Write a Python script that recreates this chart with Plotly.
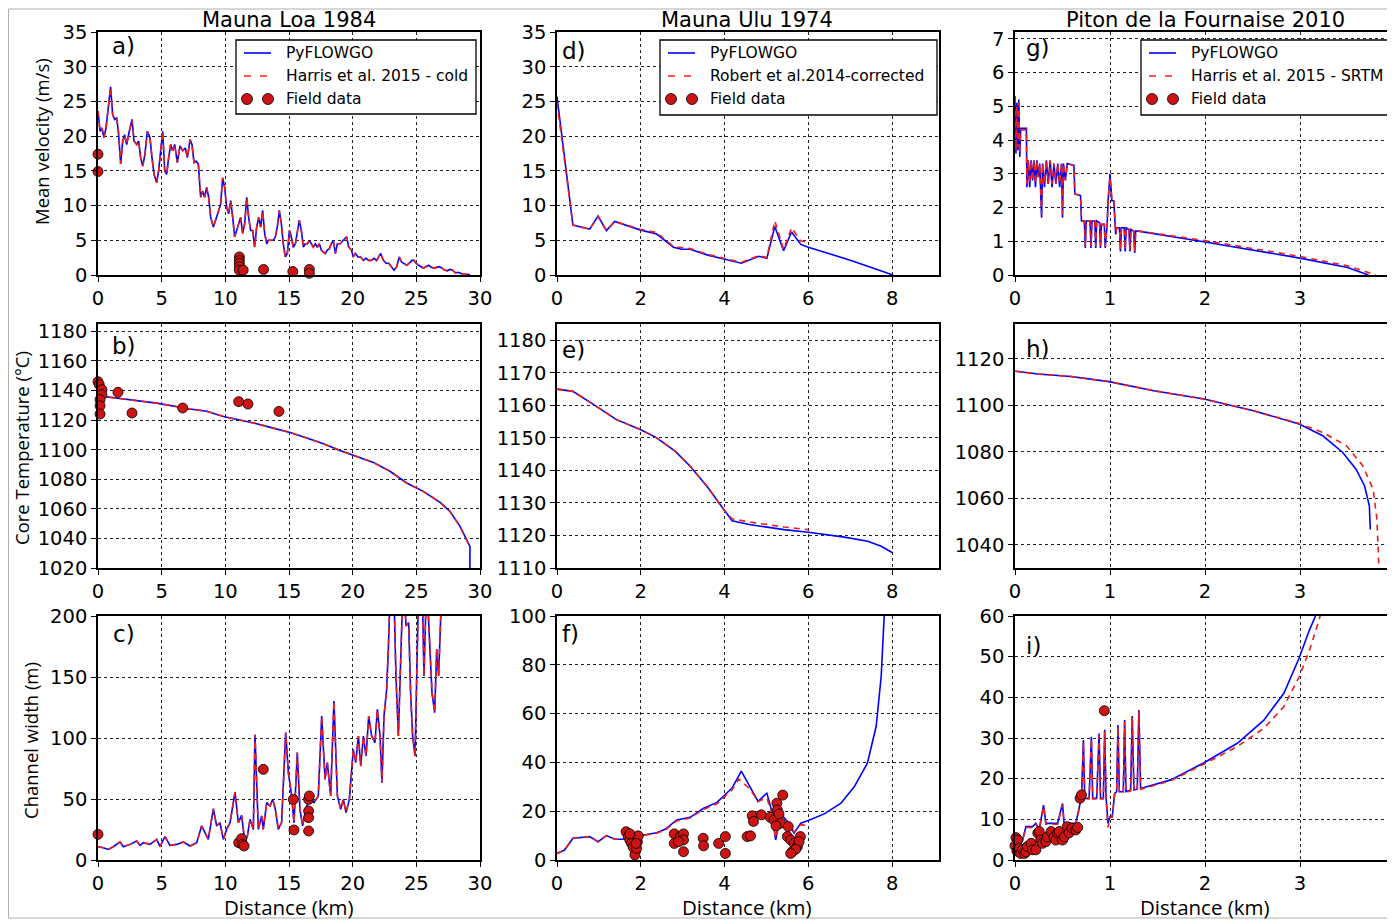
import plotly.graph_objects as go

# The page body adds an 8 px offset; the figure is sized so that it fills the window.
PAGE_OFFSET = 8
W, H = 1395 - PAGE_OFFSET, 921 - PAGE_OFFSET

# ---------------- DATA ----------------
# a) Mauna Loa 1984 - mean velocity (m/s)
a_x = [0,0.16,0.31,0.47,0.63,0.81,0.99,1.15,1.31,1.47,
       1.6,1.78,1.94,2.09,2.25,2.46,2.67,2.83,3.04,3.19,
       3.35,3.51,3.69,3.87,4.08,4.24,4.4,4.61,4.76,4.92,
       5.08,5.24,5.39,5.55,5.71,5.86,6.02,6.23,6.44,6.65,
       6.86,7.02,7.23,7.38,7.54,7.7,7.88,8.06,8.22,8.38,
       8.53,8.69,8.85,9.06,9.27,9.48,9.63,9.79,9.95,10.1,
       10.26,10.42,10.58,10.73,10.89,11.05,11.2,11.36,11.52,11.68,
       11.83,11.99,12.15,12.3,12.46,12.62,12.77,12.93,13.09,13.25,
       13.4,13.56,13.77,13.93,14.08,14.24,14.4,14.55,14.71,14.87,
       15.03,15.18,15.34,15.5,15.65,15.81,15.97,16.13,16.28,16.44,
       16.6,16.75,16.91,17.07,17.23,17.38,17.54,17.7,17.85,18.01,
       18.17,18.32,18.48,18.64,18.8,19.0,19.16,19.32,19.53,19.69,
       19.9,20.05,20.21,20.42,20.63,20.84,21.05,21.26,21.47,21.68,
       21.88,22.04,22.2,22.41,22.62,22.83,23.04,23.25,23.46,23.66,
       23.82,24.03,24.24,24.45,24.66,24.82,24.97,25.18,25.39,25.55,
       25.76,25.97,26.18,26.39,26.6,26.81,27.02,27.23,27.43,27.64,
       27.85,28.06,28.27,28.48,28.69,28.95,29.21]
a_v = [23.6,20.7,21.2,19.8,21.2,24,27.1,23.1,22.4,22.6,
       20.7,16,19.3,20.2,18.8,20.7,22.4,19.3,18.8,19.3,
       16.9,15.7,17.4,20.7,19.8,16.9,14.5,13.3,15,17.9,
       20.7,15,14.5,16.9,18.8,17.9,18.8,16.2,18.6,17.9,
       18.3,16.9,19.5,18.8,16.2,16.4,16,11.2,12.1,11.2,
       12.6,11.2,8.3,6.9,8.3,9.3,10.2,14,12.6,9.8,
       8.8,10.7,8.3,5.5,6.4,7.4,8.3,6,7.4,11.2,
       8.3,6.4,6.4,4,6.9,8.3,6.9,9.3,6,4.5,
       5,5,5,5.5,6.9,9.3,7.4,4.5,2.6,3.1,
       6.4,5.5,4,4.5,6.4,7.9,6.4,4,4.5,4.5,
       5,4.5,4,4.5,4,4.5,3.6,3.3,3.1,3.6,
       3.8,4.5,5,3.1,4.5,4.5,4.8,5.2,5.5,4,
       3.6,2.6,3.1,2.6,2.6,2.1,2.4,2.1,2.1,2.4,
       2.1,2.6,3.1,2.1,1.7,1.7,1.2,0.7,1.2,2.6,
       1.9,1.7,1.4,1.7,2.1,2.1,1.7,1.4,1.2,1,
       1.2,1.4,1.1,1,1.1,1.2,1,0.7,0.6,0.8,
       0.7,0.3,0.4,0.2,0.1,0.1,0.05]
a_field_x = [0,0,11.1,11.1,11.1,11.1,11.1,11.4,13.0,15.3,16.6,16.6]
a_field_v = [17.4,14.9,2.6,2.1,1.67,1.2,0.7,0.7,0.8,0.5,0.8,0.24]

# b) Mauna Loa 1984 - core temperature (degC)
b_x = [0,1.99,4.61,7.23,8.53,9.84,11.15,12.46,13.77,15.08,16.39,17.7,19.0,
       20.31,21.62,22.93,24.24,25.55,26.86,27.64,28.43,28.82,29.08,29.21,29.21]
b_T = [1136.5,1134.3,1131.5,1127.5,1126,1122.5,1120.3,1117.6,1114.6,1111.7,1107.9,1104,1099.5,
       1095.5,1091.4,1085.4,1077.5,1071.8,1064.4,1058.3,1048.2,1041.4,1036.9,1034.6,1015]
b_harris_x = [0,1.99,4.61,7.23,8.53,9.84,11.15,12.46,13.77,15.08,16.39,17.7,19.0,
              20.31,21.62,22.93,24.24,25.55,26.86,27.64,28.43,28.82,29.1]
b_harris_T = [1136.5,1134.3,1131.5,1127.5,1126,1122.5,1120.3,1117.6,1114.6,1111.7,1107.9,1104,1099.5,
              1095.5,1091.4,1085.4,1077.5,1071.8,1064.4,1058.3,1048.2,1041.4,1036]
b_field_x = [0,0.1,0.31,0.31,0.16,0.16,0.16,1.57,2.67,6.65,11.05,11.78,14.21]
b_field_T = [1146,1144,1140.6,1137.2,1133.8,1129.7,1124.1,1138.8,1124.8,1128.2,1132.5,1130.9,1125.9]

# c) Mauna Loa 1984 - channel width (m)
c_x = [0,0.42,0.81,1.2,1.73,1.99,2.51,3.04,3.3,3.56,
       4.08,4.61,4.87,5.26,5.65,6.18,6.7,7.23,7.75,8.14,
       8.4,8.66,9.06,9.32,9.58,9.84,10.1,10.37,10.76,11.02,
       11.28,11.54,11.73,11.94,12.2,12.33,12.59,12.85,12.98,13.25,
       13.51,13.72,13.93,14.16,14.42,14.74,14.95,15.21,15.39,15.65,
       15.86,16.07,16.39,16.65,16.96,17.3,17.57,17.83,18.01,18.27,
       18.53,18.8,19.06,19.27,19.48,19.74,20.05,20.24,20.45,20.63,
       20.84,21.05,21.26,21.49,21.75,21.94,22.15,22.3,22.46,22.67,
       22.8,22.98,23.19,23.4,23.59,23.77,23.98,24.19,24.4,24.55,
       24.71,24.9,25.03,25.21,25.42,25.6,25.81,26.02,26.23,26.44,
       26.6,26.75,26.91,27.02]
c_w = [10.9,10.1,8.7,10.9,14.8,10.9,12.8,15.6,12,14.2,
       12.8,16.9,10.9,19.1,12,12.8,14.8,11.5,14.2,27.9,
       22.4,16.9,42,27.9,30.6,16.9,25.1,30.6,55.7,30.6,
       36.6,14.2,19.7,33.3,25.1,102.7,25.1,36.1,25.1,47,
       44.3,49.7,41.5,25.1,30.6,104.4,71.6,52.5,30.6,88,
       41.5,27.9,44.3,49.7,47,52.5,118,66.1,79.8,52.5,
       130.3,52.5,41.5,49.7,38.8,49.7,90.7,79.8,101.6,77,
       101.6,85.2,118,101.6,96.2,123.5,101.6,63.4,118,139.9,
       172.7,230,240,150.8,101.6,194.5,235,191.8,194.5,137.2,
       101.6,85.2,148.1,240,250,150.8,230,183.6,137.2,120.8,
       172.7,150.8,189,230]
c_field_x = [0,11.05,11.28,11.36,11.47,12.98,15.34,15.39,16.54,16.54,16.54,16.54,16.6]
c_field_w = [21,14.2,17.5,12.8,11.5,74.3,49.7,24.6,49.7,40.2,34.7,23.8,52.5]

# d) Mauna Ulu 1974 - mean velocity
d_x = [0,0.38,0.78,0.98,1.18,1.38,1.98,2.38,2.78,2.98,3.18,3.58,3.98,4.4,4.82,5.01,5.2,5.41,5.6,5.82,6.0,7.02,8.02]
d_v = [25.7,7.2,6.6,8.5,6.4,7.7,6.5,5.9,4.0,3.7,3.7,2.9,2.3,1.7,2.7,2.4,7.0,3.5,6.2,4.4,4.0,2.1,0]
d_harris_x = [0,0.38,0.78,0.98,1.18,1.38,1.98,2.38,2.78,3.18,3.58,3.98,4.4,4.82,5.01,5.2,5.41,5.6,5.82,5.94]
d_harris_v = [24.8,7.2,6.6,8.4,6.4,7.7,6.6,6.1,4.1,3.8,3.0,2.4,1.8,2.8,2.5,7.8,3.7,6.8,4.9,4.8]

# e) Mauna Ulu 1974 - core temperature
e_x = [0,0.38,0.94,1.42,2.0,2.38,2.82,3.18,3.58,3.98,4.18,4.62,5.42,6.0,6.86,7.42,7.74,8.02]
e_T = [1165.0,1164.3,1159.7,1155.6,1152.5,1150,1145.9,1141.3,1135.1,1127.9,1124.5,1123.3,1121.8,1121.0,1119.5,1118.2,1116.7,1114.6]
e_harris_x = [0,0.38,0.94,1.42,2.0,2.38,2.82,3.18,3.58,3.98,4.18,4.62,5.42,6.0]
e_harris_T = [1165.0,1164.3,1159.7,1155.6,1152.5,1150,1145.9,1141.3,1135.1,1127.9,1125.1,1124.1,1122.6,1121.8]

# f) Mauna Ulu 1974 - channel width
f_x = [0,0.18,0.38,0.58,0.78,0.98,1.18,1.38,1.58,1.98,2.38,2.58,2.86,3.18,3.5,3.82,4.18,4.4,4.61,4.8,
       5.01,5.12,5.22,5.34,5.5,5.66,5.82,6.0,6.38,6.78,7.1,7.41,7.62,7.74,7.84]
f_w = [2.7,4.1,8.9,9.2,9.6,7.5,10,8.5,8.5,9.9,11.2,12.6,16.4,17.5,21.2,23.6,29.5,36.4,30.1,24,
       27.4,20.5,8.2,18.9,15.8,11,15.1,16.2,18.9,23.3,30.1,39.7,54.8,75.3,110]
f_harris_x = [0,0.18,0.38,0.58,0.78,0.98,1.18,1.38,1.58,1.98,2.38,2.58,2.86,3.18,3.5,3.82,4.18,4.34,4.61,4.8,
              5.01,5.12,5.22,5.34,5.5,5.66,5.82,6.0]
f_harris_w = [2.7,4.1,8.9,9.2,9.6,7.5,10,8.5,8.5,9.9,11,12.2,16,17.2,20.8,23,28.8,33.2,29,24,
              25.5,19.5,8.9,19.5,16,11.5,14.5,14.0]
f_field_x = [1.65,1.7,1.74,1.78,1.82,1.86,1.9,1.92,1.94,1.89,1.74,
             2.8,2.8,2.94,3.02,3.02,3.02,2.9,
             3.49,3.5,3.86,4.02,4.02,
             4.54,4.62,4.66,4.69,4.88,5.09,5.18,5.25,5.26,5.3,5.39,5.34,5.23,5.52,5.5,5.58,5.66,5.62,5.74,5.81,5.78,5.7,5.58]
f_field_w = [11.6,9.6,8.2,6.8,5.2,2.1,4.8,7.5,9.9,6.8,10.7,
             10.7,6.8,9.6,10.7,8.2,3.4,7.5,
             8.9,5.8,6.8,9.6,2.7,
             9.6,9.9,18.1,15.8,18.5,17.5,16.4,23.3,20.5,18.9,26.6,15.1,14,13.7,9.6,8.2,6.8,3.4,5.5,9.6,7.5,4.4,2.7]

# g) Piton de la Fournaise 2010 - mean velocity
g_x = [0,0.01,0.02,0.03,0.04,0.05,0.06,0.12,
       0.125,0.14,0.155,0.17,0.185,0.2,0.215,0.23,0.245,0.26,
       0.28,0.29,0.31,0.33,0.35,0.37,0.39,0.41,0.43,0.45,
       0.47,0.49,0.5,0.51,0.53,0.55,0.62,0.63,0.69,0.7,
       0.73,0.74,0.75,0.79,0.8,0.81,0.84,0.85,0.86,0.89,
       0.9,0.91,0.94,0.95,0.97,0.98,1.0,1.01,1.02,1.04,
       1.06,1.07,1.1,1.11,1.12,1.15,1.16,1.17,1.2,1.21,
       1.22,1.25,1.26,1.27,1.3,2.0,3.0,3.5,3.72]
g_v = [5.3,3.6,5.1,3.7,5.2,3.5,4.35,4.35,
       2.6,3.4,2.6,3.4,2.8,3.4,2.6,3.4,2.9,3.3,
       1.7,3.3,2.6,3.4,2.7,3.4,2.6,3.3,2.7,3.3,
       2.6,3.3,1.7,3.3,2.8,3.3,3.25,2.4,2.35,1.6,
       1.6,0.8,1.6,1.6,0.8,1.6,1.6,0.8,1.6,1.55,
       0.8,1.5,1.5,0.8,1.5,2.2,3.0,2.5,2.2,2.2,
       1.2,1.4,1.4,0.7,1.4,1.4,0.7,1.4,1.35,0.7,
       1.35,1.3,0.65,1.3,1.3,0.98,0.5,0.22,0]
g_harris_x = [0,0.01,0.02,0.03,0.04,0.05,0.06,0.12,
              0.125,0.14,0.155,0.17,0.185,0.2,0.215,0.23,0.245,0.26,
              0.28,0.29,0.31,0.33,0.35,0.37,0.39,0.41,0.43,0.45,
              0.47,0.49,0.5,0.51,0.53,0.55,0.62,0.63,0.69,0.7,
              0.73,0.74,0.75,0.79,0.8,0.81,0.84,0.85,0.86,0.89,
              0.9,0.91,0.94,0.95,0.97,0.98,1.0,1.01,1.02,1.04,
              1.06,1.07,1.1,1.11,1.12,1.15,1.16,1.17,1.2,1.21,
              1.22,1.25,1.26,1.27,1.3,2.0,3.0,3.5,3.8]
g_harris_v = [5.2,3.7,5.0,3.8,5.1,3.6,4.3,4.3,
              2.7,3.4,2.7,3.4,2.8,3.4,2.7,3.4,2.9,3.3,
              1.8,3.3,2.7,3.4,2.7,3.4,2.7,3.3,2.7,3.3,
              2.7,3.3,1.8,3.3,2.8,3.3,3.25,2.4,2.35,1.6,
              1.6,0.85,1.6,1.6,0.85,1.6,1.6,0.85,1.6,1.55,
              0.85,1.5,1.5,0.85,1.5,2.2,2.9,2.5,2.2,2.2,
              1.25,1.4,1.4,0.75,1.4,1.4,0.75,1.4,1.35,0.75,
              1.35,1.3,0.7,1.3,1.3,1.02,0.55,0.27,0]

# h) Piton de la Fournaise 2010 - core temperature
h_x = [0,0.24,0.59,0.99,1.46,1.99,2.51,2.99,3.24,3.45,3.59,3.68,3.73,3.74]
h_T = [1114.7,1113.5,1112.4,1110.2,1106.3,1102.7,1097.7,1092,1086.9,1079.7,1072.5,1065.3,1056.7,1046.6]
h_harris_x = [0,0.24,0.59,0.99,1.46,1.99,2.51,2.99,3.24,3.49,3.66,3.77,3.81,3.83,3.84]
h_harris_T = [1114.7,1113.5,1112.4,1110.2,1106.3,1102.7,1097.7,1092.2,1088.3,1082.6,1074,1063.9,1050.9,1030,1020]

# i) Piton de la Fournaise 2010 - channel width
i_x = [0,0.03,0.045,0.08,0.115,0.15,0.185,0.22,0.255,0.3,
       0.325,0.378,0.448,0.5,0.517,0.587,0.64,0.685,0.7,0.72,
       0.734,0.78,0.804,0.818,0.86,0.885,0.9,0.93,0.944,0.958,
       0.979,1.0,1.024,1.049,1.07,1.084,1.098,1.14,1.154,1.168,
       1.217,1.234,1.252,1.287,1.304,1.322,1.64,1.99,2.34,2.62,
       2.83,2.99,3.1,3.16,3.19]
i_w = [4.9,6.6,4.1,4.9,8.2,8.2,8.2,9.0,7.4,13.5,
       9.0,9.0,9.0,13.9,9.0,9.0,9.0,13.9,15.2,29.5,
       15.2,15.2,30.3,15.2,15.2,31.1,15.2,15.2,32.0,15.6,
       9.0,10.7,10.7,16.4,16.8,33.2,16.8,16.8,34.4,16.8,
       17.2,35.4,17.2,17.4,36.9,17.6,19.7,23.9,28.7,34.4,
       41.0,49.6,56.6,59.8,63]
i_harris_x = [0,0.03,0.045,0.08,0.115,0.15,0.185,0.22,0.255,0.3,
              0.325,0.378,0.448,0.5,0.517,0.587,0.64,0.685,0.7,0.72,
              0.734,0.78,0.804,0.818,0.86,0.885,0.9,0.93,0.944,0.958,
              0.979,1.0,1.024,1.049,1.07,1.084,1.098,1.14,1.154,1.168,
              1.217,1.234,1.252,1.287,1.304,1.322,1.64,1.99,2.34,2.62,
              2.83,2.99,3.1,3.19,3.23]
i_harris_w = [4.9,6.4,4.3,4.9,8.0,8.0,8.0,8.8,7.4,13.2,
              8.8,8.8,8.8,13.6,8.8,8.8,8.8,13.6,15.0,29.0,
              15.0,15.0,29.8,15.0,15.0,30.6,15.0,15.0,31.5,15.4,
              8.0,10.5,10.5,16.2,16.6,32.8,16.6,16.6,34.0,16.6,
              17.0,35.0,17.0,17.2,36.5,17.4,19.5,23.6,27.9,32.4,
              37.7,45,51.6,58.2,61.5]
i_field_x = [0.0,0.01,0.02,0.03,0.045,0.06,0.08,0.1,0.115,0.13,0.17,0.185,0.22,
             0.24,0.255,0.27,0.29,0.325,0.34,0.38,0.41,0.43,0.45,
             0.465,0.5,0.52,0.55,0.57,0.6,0.64,0.66,0.685,0.7,0.94]
i_field_w = [3.5,5.5,2.2,4.9,2.9,1.6,2.5,1.6,2.0,3.3,4.1,2.5,2.5,
             6.6,7.0,4.9,4.1,4.5,5.7,7.0,5.7,4.9,6.6,
             7.0,4.9,5.7,8.2,6.7,7.8,7.4,8.0,15.2,16.0,36.7]

col_titles = ["Mauna Loa 1984", "Mauna Ulu 1974", "Piton de la Fournaise 2010"]
row_titles = ["Mean velocity (m/s)", "Core Temperature (°C)", "Channel width (m)"]
x_title = "Distance (km)"
legend_labels = [
    ["PyFLOWGO", "Harris et al. 2015 - cold", "Field data"],
    ["PyFLOWGO", "Robert et al.2014-corrected", "Field data"],
    ["PyFLOWGO", "Harris et al. 2015 - SRTM", "Field data"],
]
panel_letters = ["a)", "b)", "c)", "d)", "e)", "f)", "g)", "h)", "i)"]

# ---------------- LAYOUT HELPERS (page pixels -> paper fractions) ----------------
def fx(p):
    return (p - PAGE_OFFSET) / W

def fy(p):
    return 1 - (p - PAGE_OFFSET) / H

col_px = [(98, 480), (557, 939), (1015, 1395)]
row_px = [(32, 275), (324, 568), (616, 860)]

x_ranges = [[0, 30], [0, 9.12], [0, 4]]
x_dticks = [5, 2, 1]
y_ranges = [[[0, 35], [1020, 1185], [0, 200]],
            [[0, 35], [1110, 1185], [0, 100]],
            [[0, 7.2], [1030, 1135], [0, 60]]]
y_ticks = [[list(range(0, 36, 5)), list(range(1020, 1181, 20)), list(range(0, 201, 50))],
           [list(range(0, 36, 5)), list(range(1110, 1181, 10)), list(range(0, 101, 20))],
           [list(range(0, 8)), list(range(1040, 1121, 20)), list(range(0, 61, 10))]]

BLUE = "#0000ff"
RED = "#ee1c1c"
DOT_FILL = "#cc1414"
TICKFONT = dict(family="DejaVu Sans", size=19.5, color="black")
XLABELFONT = dict(family="Open Sans", size=20.5, color="black")
YLABELFONT = dict(family="Open Sans", size=18.5, color="black")

fig = go.Figure()

def axis_id(col, row):
    return col * 3 + row + 1

def add_line(col, row, x, y, color, dash=None, width=1.6):
    n = axis_id(col, row)
    fig.add_trace(go.Scatter(
        x=x, y=y, mode="lines",
        line=dict(color=color, width=width, dash=dash),
        xaxis=f"x{n}", yaxis=f"y{n}", showlegend=False, hoverinfo="skip"))

def add_points(col, row, x, y):
    n = axis_id(col, row)
    fig.add_trace(go.Scatter(
        x=x, y=y, mode="markers",
        marker=dict(color=DOT_FILL, size=10, line=dict(color="black", width=0.8)),
        cliponaxis=False,
        xaxis=f"x{n}", yaxis=f"y{n}", showlegend=False, hoverinfo="skip"))

DASH = "6px,5px"

# Mauna Loa
add_line(0, 0, a_x, a_v, BLUE)
add_line(0, 0, a_x, a_v, RED, DASH)
add_points(0, 0, a_field_x, a_field_v)
add_line(0, 1, b_x, b_T, BLUE)
add_line(0, 1, b_harris_x, b_harris_T, RED, DASH)
add_points(0, 1, b_field_x, b_field_T)
add_line(0, 2, c_x, c_w, BLUE)
add_line(0, 2, c_x, c_w, RED, DASH)
add_points(0, 2, c_field_x, c_field_w)
# Mauna Ulu
add_line(1, 0, d_x, d_v, BLUE)
add_line(1, 0, d_harris_x, d_harris_v, RED, DASH)
add_line(1, 1, e_x, e_T, BLUE)
add_line(1, 1, e_harris_x, e_harris_T, RED, DASH)
add_line(1, 2, f_x, f_w, BLUE)
add_line(1, 2, f_harris_x, f_harris_w, RED, DASH)
add_points(1, 2, f_field_x, f_field_w)
# Piton de la Fournaise
add_line(2, 0, g_x, g_v, BLUE)
add_line(2, 0, g_harris_x, g_harris_v, RED, DASH)
add_line(2, 1, h_x, h_T, BLUE)
add_line(2, 1, h_harris_x, h_harris_T, RED, DASH)
add_line(2, 2, i_x, i_w, BLUE)
add_line(2, 2, i_harris_x, i_harris_w, RED, DASH)
add_points(2, 2, i_field_x, i_field_w)

layout = dict(
    width=W, height=H,
    margin=dict(l=0, r=0, t=0, b=0, autoexpand=False),
    paper_bgcolor="white", plot_bgcolor="white",
    showlegend=False,
)

axis_common = dict(
    showline=True, linecolor="black", linewidth=1.5, mirror=True,
    ticks="outside", ticklen=5, tickcolor="black", tickwidth=1,
    showgrid=True, gridcolor="#222222", gridwidth=1, griddash="dot",
    zeroline=False, tickfont=TICKFONT, fixedrange=True, automargin=False,
)

for col in range(3):
    for row in range(3):
        n = axis_id(col, row)
        xs = "" if n == 1 else str(n)
        x0, x1 = col_px[col]
        t0, t1 = row_px[row]
        layout[f"xaxis{xs}"] = dict(
            axis_common, domain=[fx(x0), min(1.0, fx(x1))],
            range=x_ranges[col], dtick=x_dticks[col], tick0=0,
            anchor=f"y{n}")
        layout[f"yaxis{xs}"] = dict(
            axis_common, domain=[fy(t1), fy(t0)],
            range=y_ranges[col][row], tickmode="array",
            tickvals=y_ticks[col][row], anchor=f"x{n}")

annotations = []
shapes = []

# column titles and x titles
col_centers = [289, 747, 1205]
for col, t in enumerate(col_titles):
    cx = col_centers[col]
    annotations.append(dict(text=t, x=fx(cx), y=fy(20), xref="paper", yref="paper",
                            xanchor="center", yanchor="middle", showarrow=False,
                            font=dict(family="DejaVu Sans", size=21, color="black")))
    annotations.append(dict(text=x_title, x=fx(cx), y=fy(907), xref="paper", yref="paper",
                            xanchor="center", yanchor="middle", showarrow=False, font=XLABELFONT))

# row titles
row_title_pos = [(42, 142), (21, 448), (30, 741)]
for r, t in enumerate(row_titles):
    px_, py_ = row_title_pos[r]
    annotations.append(dict(text=t, x=fx(px_), y=fy(py_), xref="paper", yref="paper",
                            xanchor="center", yanchor="middle", showarrow=False,
                            textangle=-90, font=YLABELFONT))

# panel letters
letter_pos = [(110, 46), (110, 346), (111, 634),
              (560, 51), (560, 350), (560, 634),
              (1024, 48), (1024, 349), (1024, 646)]
for k, lt in enumerate(panel_letters):
    lx, ly = letter_pos[k]
    annotations.append(dict(text=lt, x=fx(lx), y=fy(ly), xref="paper", yref="paper",
                            xanchor="left", yanchor="middle", showarrow=False,
                            font=dict(family="DejaVu Sans", size=23, color="black")))

# legends (drawn as boxes)
legend_boxes = [(236, 40, 476, 114), (660, 40, 937, 115), (1141, 40, 1391, 115)]
for col in range(3):
    L, T, R, B = legend_boxes[col]
    shapes.append(dict(type="rect", xref="paper", yref="paper",
                       x0=fx(L), x1=fx(R), y0=fy(B), y1=fy(T),
                       line=dict(color="black", width=1.3), fillcolor="white", layer="above"))
    ys = [T + 13, T + 36, T + 59]
    lx0, lx1 = L + 8, L + 35
    shapes.append(dict(type="line", xref="paper", yref="paper",
                       x0=fx(lx0), x1=fx(lx1), y0=fy(ys[0]), y1=fy(ys[0]),
                       line=dict(color=BLUE, width=1.6), layer="above"))
    shapes.append(dict(type="line", xref="paper", yref="paper",
                       x0=fx(lx0), x1=fx(lx1), y0=fy(ys[1]), y1=fy(ys[1]),
                       line=dict(color=RED, width=1.6, dash="7px,9px"), layer="above"))
    for cxp in (lx0 + 3, lx1 - 3):
        shapes.append(dict(type="circle", xref="paper", yref="paper",
                           x0=fx(cxp - 5.5), x1=fx(cxp + 5.5), y0=fy(ys[2] + 5.5), y1=fy(ys[2] - 5.5),
                           line=dict(color="black", width=0.8), fillcolor=DOT_FILL, layer="above"))
    for k, lab in enumerate(legend_labels[col]):
        annotations.append(dict(text=lab, x=fx(L + 48), y=fy(ys[k]), xref="paper", yref="paper",
                                xanchor="left", yanchor="middle", showarrow=False,
                                font=dict(family="DejaVu Sans", size=15.5, color="black")))

# thin figure frame
shapes.append(dict(type="rect", xref="paper", yref="paper",
                   x0=fx(8.5), x1=fx(1420), y0=fy(918), y1=fy(9),
                   line=dict(color="#b0b0b0", width=1), layer="below"))

layout["annotations"] = annotations
layout["shapes"] = shapes
fig.update_layout(**layout)

fig.write_html("out.html")
